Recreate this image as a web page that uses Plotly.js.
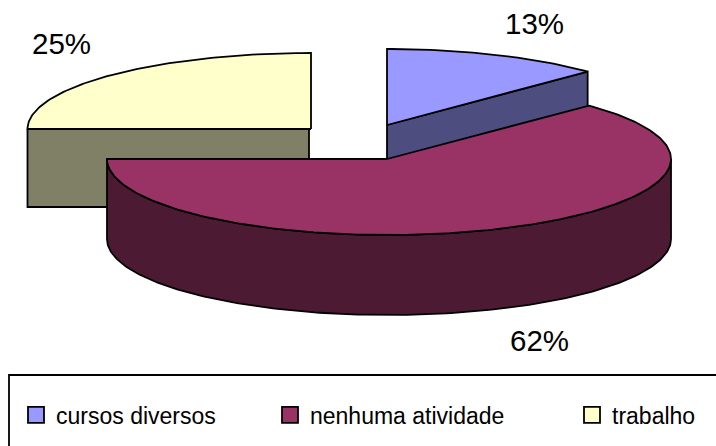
<!DOCTYPE html>
<html>
<head>
<meta charset="utf-8">
<script src="https://cdn.plot.ly/plotly-3.0.1.min.js"></script>
<style>html,body{margin:0;padding:0;background:#fff}</style>
</head>
<body>
<div id="chart" style="width:716px;height:446px"></div>
<script>
const categories = ["cursos diversos", "nenhuma atividade", "trabalho"];
const shares = [12.6, 62.4, 25];
const topColors = ["#9999FF", "#993366", "#FFFFCC"];
const wallColors = ["#4D4D80", "#4D1A33", "#808066"];
const legendLefts = [16, 270, 572];

// Projection of the exploded 3D pie: one ellipse per slice, in canvas pixels
const geo = [
  {cx: 387, cy: 125, rxR: 282, rxL: 282, ry: 76, depth: 80},
  {cx: 387, cy: 159, rxR: 284, rxL: 280, ry: 76, depth: 80},
  {cx: 311, cy: 129, rxR: 283.5, rxL: 283.5, ry: 76, depth: 78}
];
const labelPos = [[534, 23], [539.5, 340], [61, 43]];

let acc = 0;
const spans = shares.map(v => { const a0 = acc; acc += v * 3.6; return [a0, acc]; });

function pt(g, deg, dy) {
  const r = deg * Math.PI / 180, s = Math.sin(r);
  return [g.cx + (s >= 0 ? g.rxR : g.rxL) * s, g.cy - g.ry * Math.cos(r) + (dy || 0)];
}
function arc(g, a0, a1, dy) {
  const out = [], n = Math.max(2, Math.ceil(Math.abs(a1 - a0)));
  for (let i = 0; i <= n; i++) out.push(pt(g, a0 + (a1 - a0) * i / n, dy));
  return out;
}
function poly(points, color) {
  return {
    type: "scatter", mode: "lines", fill: "toself", fillcolor: color,
    x: points.map(p => p[0]), y: points.map(p => p[1]),
    line: {color: "#000", width: 1.8}, hoverinfo: "skip", showlegend: false
  };
}
function topFace(i) {
  const g = geo[i], [a0, a1] = spans[i];
  const pts = [[g.cx, g.cy]].concat(arc(g, a0, a1), [[g.cx, g.cy]]);
  return poly(pts, topColors[i]);
}

const traces = [];
// trabalho: front radial face, then top
const gT = geo[2];
traces.push(poly([[gT.cx - gT.rxL, gT.cy], [gT.cx - 2, gT.cy], [gT.cx - 2, gT.cy + gT.depth],
                  [gT.cx - gT.rxL, gT.cy + gT.depth], [gT.cx - gT.rxL, gT.cy]], wallColors[2]));
traces.push(topFace(2));
// cursos diversos: radial face, then top
const gC = geo[0], eC = pt(gC, spans[0][1]);
traces.push(poly([[gC.cx, gC.cy], eC, [eC[0], eC[1] + gC.depth], [gC.cx, gC.cy + gC.depth], [gC.cx, gC.cy]], wallColors[0]));
traces.push(topFace(0));
// nenhuma atividade: curved wall, then top
const gN = geo[1];
const wallPts = arc(gN, 90, 270).concat(arc(gN, 270, 90, gN.depth));
wallPts.push(wallPts[0]);
traces.push(poly(wallPts, wallColors[1]));
traces.push(topFace(1));

// legend entries
const layoutLegends = {};
categories.forEach((name, i) => {
  const key = i === 0 ? "legend" : "legend" + (i + 1);
  traces.push({
    type: "scatter", mode: "markers", x: [null], y: [null], name: name, legend: key,
    marker: {symbol: "square", size: 16, color: topColors[i], line: {color: "#000", width: 1.8}},
    showlegend: true, hoverinfo: "skip"
  });
  layoutLegends[key] = {
    x: legendLefts[i] / 716, y: 1 - 415 / 446, xanchor: "left", yanchor: "middle",
    bgcolor: "rgba(0,0,0,0)", borderwidth: 0, itemsizing: "trace", itemwidth: 30,
    font: {family: "Liberation Sans, Arial, sans-serif", size: 23, color: "#000"}
  };
});

const annotations = shares.map((v, i) => ({
  x: labelPos[i][0], y: labelPos[i][1], xref: "x", yref: "y",
  text: Math.round(v) + "%", showarrow: false, xanchor: "center", yanchor: "middle",
  font: {family: "Liberation Sans, Arial, sans-serif", size: 29.5, color: "#000"}
}));

const layout = Object.assign({
  width: 716, height: 446, margin: {l: 0, r: 0, t: 0, b: 0},
  paper_bgcolor: "#fff", plot_bgcolor: "#fff", showlegend: true,
  xaxis: {range: [0, 716], visible: false, fixedrange: true},
  yaxis: {range: [446, 0], visible: false, fixedrange: true},
  annotations: annotations,
  shapes: [{type: "path", path: "M 9 446 L 9 375 L 716 375", xref: "x", yref: "y",
            line: {color: "#000", width: 1.8}, fillcolor: "rgba(0,0,0,0)"}]
}, layoutLegends);

Plotly.newPlot("chart", traces, layout, {staticPlot: true, displayModeBar: false});
</script>
</body>
</html>
